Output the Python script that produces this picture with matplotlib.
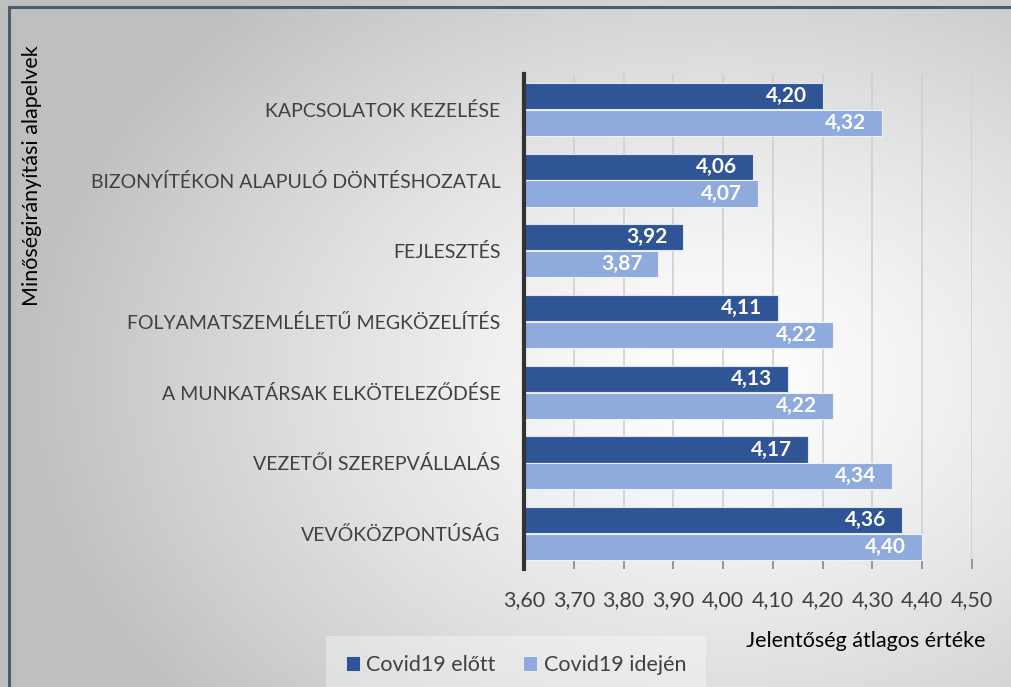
# -*- coding: utf-8 -*-

import numpy as np
import matplotlib
matplotlib.use('Agg')
import matplotlib.pyplot as plt
from matplotlib.patches import Patch

plt.rcParams['font.family'] = ['Lato', 'DejaVu Sans']

# adatok (felülről lefelé)
categories = [
    'KAPCSOLATOK KEZELÉSE',
    'BIZONYÍTÉKON ALAPULÓ DÖNTÉSHOZATAL',
    'FEJLESZTÉS',
    'FOLYAMATSZEMLÉLETŰ MEGKÖZELÍTÉS',
    'A MUNKATÁRSAK ELKÖTELEZŐDÉSE',
    'VEZETŐI SZEREPVÁLLALÁS',
    'VEVŐKÖZPONTÚSÁG',
]
before = [4.20, 4.06, 3.92, 4.11, 4.13, 4.17, 4.36]
during = [4.32, 4.07, 3.87, 4.22, 4.22, 4.34, 4.40]
series_names = ['Covid19 előtt', 'Covid19 idején']
x_ticks = [3.60, 3.70, 3.80, 3.90, 4.00, 4.10, 4.20, 4.30, 4.40, 4.50]

DARK = '#2F5597'
LIGHT = '#8FAADC'


def fmt(v):
    return '{:.2f}'.format(v).replace('.', ',')


def main():
    W, H = 1012, 687
    fig = plt.figure(figsize=(W / 100, H / 100), dpi=100)

    # háttér: radiális színátmenet
    bg = fig.add_axes([0, 0, 1, 1], zorder=-10)
    yy, xx = np.mgrid[0:H, 0:W]
    d = np.sqrt(((xx - 720) / 700.0) ** 2 + ((yy - 380) / 520.0) ** 2)
    d = np.clip(d, 0, 1)
    shade = 1.0 - 0.25 * d ** 1.3
    bg.imshow(np.dstack([shade, shade, shade]), aspect='auto', extent=(0, 1, 0, 1))
    bg.set_axis_off()

    # keret
    fig.add_artist(plt.Line2D([9 / W, 1], [1 - 7 / H, 1 - 7 / H], color='#4E5B6E', lw=2.2))
    fig.add_artist(plt.Line2D([9 / W, 9 / W], [0, 1 - 7 / H], color='#4E5B6E', lw=2.2))

    ax = fig.add_axes([524 / W, 1 - 569 / H, (972 - 524) / W, (569 - 74) / H])
    ax.patch.set_alpha(0)

    y = np.arange(len(categories))
    h = 0.37
    b1 = ax.barh(y - 0.19, before, height=h, color=DARK, edgecolor='#dfe6f3', linewidth=0.8, zorder=3)
    b2 = ax.barh(y + 0.19, during, height=h, color=LIGHT, edgecolor='#eef2fa', linewidth=0.8, zorder=3)

    for bars, vals in ((b1, before), (b2, during)):
        for rect, v in zip(bars, vals):
            ax.annotate(fmt(v), (v, rect.get_y() + rect.get_height() / 2),
                        xytext=(-11.5, 0), textcoords='offset points',
                        ha='right', va='center', color='white',
                        fontsize=15, fontweight='bold', zorder=4)

    ax.set_xlim(3.6, 4.5)
    ax.set_ylim(len(categories) - 0.5, -0.5)
    ax.set_xticks(x_ticks)
    ax.set_xticklabels([fmt(t) for t in x_ticks], fontsize=15.5, color='#404040')
    ax.set_yticks(y)
    ax.set_yticklabels(categories, fontsize=14, color='#404040')
    ax.tick_params(axis='y', length=0, pad=17)
    ax.tick_params(axis='x', direction='in', length=7, color='#8c8c8c', width=1.2, pad=15)
    ax.grid(axis='x', color='#cfcfcf', lw=1.2, zorder=0)

    for s in ('top', 'right', 'bottom'):
        ax.spines[s].set_visible(False)
    ax.spines['left'].set_color('#333333')
    ax.spines['left'].set_linewidth(3)
    ax.spines['left'].set_zorder(5)

    fig.text(986 / W, 1 - 641 / H, 'Jelentőség átlagos értéke', ha='right', va='center',
             fontsize=15.5, color='black')
    fig.text(32 / W, 1 - 176 / H, 'Minőségirányítási alapelvek', rotation=90,
             ha='center', va='center', fontsize=15.5, color='black')

    handles = [Patch(facecolor=DARK, edgecolor='white', lw=0.5),
               Patch(facecolor=LIGHT, edgecolor='white', lw=0.5)]
    leg = fig.legend(handles, series_names, loc='center', ncol=2,
                     bbox_to_anchor=(516 / W, 1 - 665 / H), fontsize=15.5,
                     frameon=True, handlelength=0.65, handleheight=0.65,
                     handletextpad=0.3, columnspacing=1.3, borderpad=0.9)
    leg.get_frame().set_facecolor('white')
    leg.get_frame().set_alpha(0.35)
    leg.get_frame().set_edgecolor('none')
    leg.get_frame().set_boxstyle('square', pad=0)
    for t in leg.get_texts():
        t.set_color('#404040')

    fig.savefig('out.png', dpi=100)


if __name__ == '__main__':
    main()
